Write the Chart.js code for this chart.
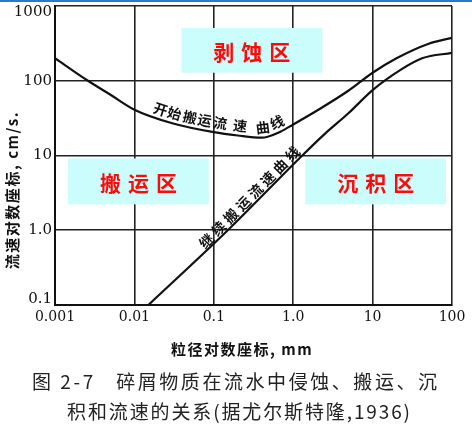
<!DOCTYPE html>
<html><head><meta charset="utf-8">
<script src="https://cdn.jsdelivr.net/npm/chart.js@4"></script>
<style>html,body{margin:0;padding:0;background:#fff;overflow:hidden}canvas{display:block}</style>
</head><body>
<canvas id="c" width="472" height="436"></canvas>
<script>
// ---- data ----
const grainSizesErosion = [0.001, 0.0026, 0.005, 0.01, 0.03, 0.1, 0.2, 0.4, 0.7, 1, 2, 5, 10, 20, 50, 100];
const velocitiesErosion = [200, 100, 65, 41, 27, 20.5, 18.5, 17.3, 21, 26, 40, 74, 128, 200, 311, 375];
const grainSizesDeposition = [0.015, 0.15, 1.3, 2.5, 5, 10, 23, 42, 100];
const velocitiesDeposition = [0.1, 1.0, 10, 19.5, 37, 75, 142, 200, 236];
const xTickValues = [0.001, 0.01, 0.1, 1, 10, 100];
const xTickLabels = ['0.001', '0.01', '0.1', '1.0', '10', '100'];
const yTickValues = [0.1, 1, 10, 100, 1000];
const yTickLabels = [['0.1', ''], '1.0', '10', '100', ['', '1000']];
const zoneNames = ['剥蚀区', '搬运区', '沉积区'];
const erosionLabel = '开始搬运流速曲线';
const depositionLabel = '继续搬运流速曲线';
const xTitle = '粒径对数座标, mm';
const yTitle = '流速对数座标, cm/s.';
const caption1 = '图 2-7   碎屑物质在流水中侵蚀、搬运、沉';
const caption2 = '积和流速的关系(据尤尔斯特隆,1936)';

// ---- annotation placement (data coordinates) ----
const zoneBoxes = [
  {x0: 0.039, x1: 2.33, y0: 509, y1: 128},
  {x0: 0.00146, x1: 0.0865, y0: 9.12, y1: 2.22},
  {x0: 1.42, x1: 84, y0: 9.12, y1: 2.22}
];
const erosionLabelAt = [0.0195, 0.0294, 0.0469, 0.0726, 0.1156, 0.207, 0.43, 0.705];
const depositionLabelAt = 0.33;

const CJK = '"Noto Sans CJK SC", "Noto Sans CJK JP", sans-serif';

function bez(a,b,c,d,t){const u=1-t;return u*u*u*a+3*u*u*t*b+3*u*t*t*c+t*t*t*d;}
function dbez(a,b,c,d,t){const u=1-t;return 3*u*u*(b-a)+6*u*t*(c-b)+3*t*t*(d-c);}
function curveAt(meta, px){
  const p = meta.data;
  for (let i=0;i<p.length-1;i++){
    const a=p[i], b=p[i+1];
    if (px>=a.x && px<=b.x){
      const x1=a.cp2x??a.x, y1=a.cp2y??a.y, x2=b.cp1x??b.x, y2=b.cp1y??b.y;
      let lo=0,hi=1,t=0.5;
      for(let k=0;k<40;k++){t=(lo+hi)/2; if(bez(a.x,x1,x2,b.x,t)<px) lo=t; else hi=t;}
      return {x:px, y:bez(a.y,y1,y2,b.y,t), ang:Math.atan2(dbez(a.y,y1,y2,b.y,t), dbez(a.x,x1,x2,b.x,t))};
    }
  }
  return null;
}
function fitText(ctx, text, x, y, width){
  ctx.letterSpacing = '0px';
  const w = ctx.measureText(text).width;
  const n = [...text].length;
  const ls = (width - w)/(n-1);
  ctx.letterSpacing = ls + 'px';
  ctx.textAlign = 'left';
  ctx.fillText(text, x, y);
  ctx.letterSpacing = '0px';
}

const decor = {
  id: 'decor',
  beforeDraw(chart){
    const ctx = chart.ctx;
    ctx.save();
    ctx.fillStyle = '#fff';
    ctx.fillRect(0,0,chart.width,chart.height);
    ctx.fillStyle = '#2a78d4';
    ctx.fillRect(0,0,chart.width,2);
    ctx.restore();
  },
  beforeDatasetsDraw(chart){
    const ctx = chart.ctx, xs = chart.scales.x, ys = chart.scales.y;
    ctx.save();
    zoneBoxes.forEach((b,i)=>{
      const x0 = xs.getPixelForValue(b.x0), x1 = xs.getPixelForValue(b.x1);
      const y0 = ys.getPixelForValue(b.y0), y1 = ys.getPixelForValue(b.y1);
      ctx.fillStyle = '#ccfdfd';
      ctx.fillRect(x0, y0, x1-x0, y1-y0);
      ctx.fillStyle = '#ff0a0a';
      ctx.font = 'bold 21px ' + CJK;
      ctx.textAlign = 'center';
      ctx.textBaseline = 'middle';
      ctx.letterSpacing = '7px';
      ctx.fillText(zoneNames[i], (x0+x1)/2 + 3.5, (y0+y1)/2 + 2);
      ctx.letterSpacing = '0px';
    });
    ctx.restore();
  },
  afterDraw(chart){
    const ctx = chart.ctx, xs = chart.scales.x, ys = chart.scales.y, ca = chart.chartArea;
    ctx.save();
    ctx.fillStyle = '#111';
    ctx.textBaseline = 'middle';
    // curved label along erosion curve
    const m0 = chart.getDatasetMeta(0);
    ctx.font = 'bold 14px ' + CJK;
    ctx.textAlign = 'center';
    [...erosionLabel].forEach((ch,i)=>{
      const c = curveAt(m0, xs.getPixelForValue(erosionLabelAt[i]));
      if(!c) return;
      const off = 10;
      ctx.save();
      ctx.translate(c.x + off*Math.sin(c.ang), c.y - off*Math.cos(c.ang));
      ctx.rotate(c.ang);
      ctx.fillText(ch, 0, 0);
      ctx.restore();
    });
    // straight label along deposition line
    const m1 = chart.getDatasetMeta(1);
    const d = curveAt(m1, xs.getPixelForValue(depositionLabelAt));
    if (d){
      const off = 8;
      ctx.save();
      ctx.translate(d.x + off*Math.sin(d.ang), d.y - off*Math.cos(d.ang));
      ctx.rotate(d.ang);
      ctx.font = 'bold 14px ' + CJK;
      ctx.letterSpacing = '3.5px';
      ctx.fillText(depositionLabel, 2, 0);
      ctx.restore();
    }
    // axis titles
    ctx.font = 'bold 15px ' + CJK;
    ctx.save();
    ctx.translate(12, 190);
    ctx.rotate(-Math.PI/2);
    ctx.textAlign = 'center';
    ctx.letterSpacing = '1.5px';
    ctx.fillText(yTitle, 0, 0);
    ctx.restore();
    ctx.font = 'bold 15px ' + CJK;
    ctx.textAlign = 'center';
    ctx.letterSpacing = '1.5px';
    ctx.fillText(xTitle, 242, 349);
    ctx.letterSpacing = '0px';
    // caption
    ctx.fillStyle = '#222';
    ctx.font = '19px ' + CJK;
    fitText(ctx, caption1, 32, 382, 405);
    fitText(ctx, caption2, 67, 412, 343);
    ctx.restore();
  }
};

new Chart(document.getElementById('c'), {
  type: 'line',
  data: {
    datasets: [
      {data: grainSizesErosion.map((x,i)=>({x, y: velocitiesErosion[i]})),
       borderColor: '#111', borderWidth: 2.2, pointRadius: 0, fill: false, cubicInterpolationMode: 'monotone'},
      {data: grainSizesDeposition.map((x,i)=>({x, y: velocitiesDeposition[i]})),
       borderColor: '#111', borderWidth: 2.2, pointRadius: 0, fill: false, cubicInterpolationMode: 'monotone'}
    ]
  },
  options: {
    responsive: false,
    devicePixelRatio: 1,
    animation: false,
    layout: {padding: {top: 6, right: 20, left: 0, bottom: 0}},
    plugins: {legend: {display: false}, tooltip: {enabled: false}},
    scales: {
      x: {
        type: 'logarithmic', min: 0.001, max: 100,
        afterBuildTicks: s => { s.ticks = xTickValues.map(v=>({value: v})); },
        afterFit: s => { s.height = 131; s.paddingLeft = 0; s.paddingRight = 0; },
        ticks: {autoSkip: false, maxRotation: 0, padding: 4, color: '#111',
          font: {family: '"DejaVu Serif", serif', size: 14},
          callback: (v, i) => xTickLabels[i]},
        grid: {color: '#222', lineWidth: 1.6, drawTicks: false},
        border: {display: true, color: '#111', width: 2}
      },
      y: {
        type: 'logarithmic', min: 0.1, max: 1000,
        afterBuildTicks: s => { s.ticks = yTickValues.map(v=>({value: v})); },
        afterFit: s => { s.width = 55; s.paddingTop = 0; s.paddingBottom = 0; },
        ticks: {autoSkip: false, padding: 3, color: '#111',
          font: {family: '"DejaVu Serif", serif', size: 15, lineHeight: 0.8},
          callback: (v, i) => yTickLabels[i]},
        grid: {color: '#222', lineWidth: 1.6, drawTicks: false},
        border: {display: true, color: '#111', width: 2}
      }
    }
  },
  plugins: [decor]
});
</script>
</body></html>
